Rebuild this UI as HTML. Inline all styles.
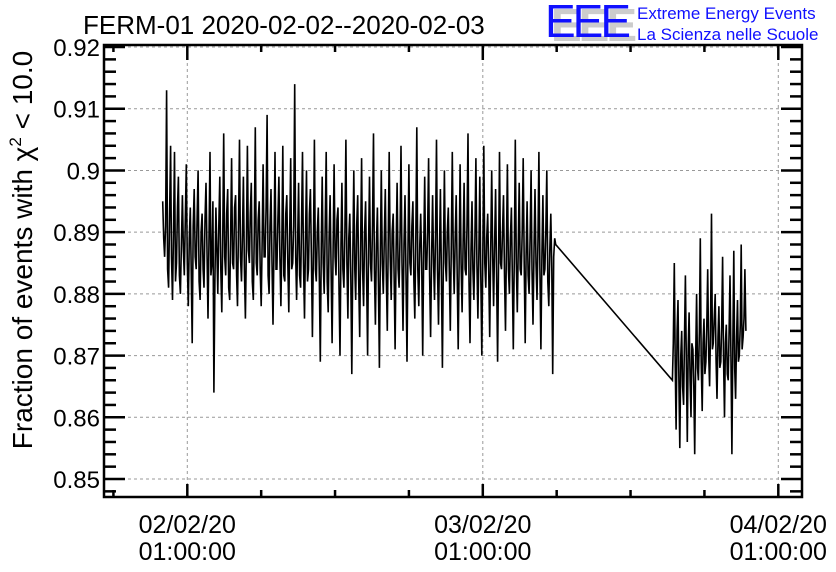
<!DOCTYPE html>
<html><head><meta charset="utf-8"><style>
body{margin:0;background:#fff;}
svg{display:block;font-family:"Liberation Sans",sans-serif;}
</style></head><body>
<svg id="chart" width="836" height="572">
<text x="83" y="34" font-size="26">FERM-01 2020-02-02--2020-02-03</text>
<g>
<text x="551" y="41" font-size="46" fill="#ccc" font-weight="bold" letter-spacing="-3">EEE</text>
<text x="545" y="37" font-size="46" fill="#1010ff" letter-spacing="-3">EEE</text>
<text x="637" y="19" font-size="17" fill="#1010ff">Extreme Energy Events</text>
<text x="637" y="40" font-size="17" fill="#1010ff">La Scienza nelle Scuole</text>
</g>
<text transform="translate(32,250) rotate(-90)" text-anchor="middle" font-size="28">Fraction of events with χ<tspan dy="-11" font-size="17">2</tspan><tspan dy="11"> &lt; 10.0</tspan></text>
<g id="grid"></g><g id="series"></g><g id="axes"></g>
</svg>
<script>
const yTicks=[0.85,0.86,0.87,0.88,0.89,0.90,0.91,0.92];
const yTickLabels=["0.85","0.86","0.87","0.88","0.89","0.9","0.91","0.92"];
const xTickHours=[0,24,48];
const xTickLabels=[["02/02/20","01:00:00"],["03/02/20","01:00:00"],["04/02/20","01:00:00"]];
const seg1Start=-2.0, seg1Step=0.08;
const seg1Values=[
0.895,0.889,0.886,0.891,0.913,0.884,0.881,0.893,0.904,0.886,0.879,0.890,0.903,0.882,0.885,0.894,0.899,0.883,0.880,0.888,
0.896,0.887,0.883,0.892,0.901,0.885,0.878,0.889,0.894,0.884,0.872,0.891,0.897,0.886,0.884,0.893,0.900,0.882,0.879,0.890,
0.893,0.884,0.881,0.892,0.898,0.887,0.876,0.889,0.903,0.883,0.885,0.895,0.864,0.882,0.894,0.887,0.880,0.891,0.899,0.884,
0.877,0.890,0.906,0.886,0.883,0.893,0.897,0.881,0.879,0.889,0.902,0.885,0.884,0.894,0.896,0.883,0.878,0.891,0.905,0.886,
0.882,0.890,0.899,0.884,0.876,0.888,0.904,0.887,0.885,0.893,0.898,0.882,0.879,0.890,0.907,0.885,0.883,0.892,0.895,0.884,
0.878,0.889,0.901,0.886,0.886,0.894,0.909,0.883,0.880,0.891,0.897,0.885,0.875,0.888,0.903,0.884,0.884,0.892,0.899,0.886,
0.878,0.889,0.904,0.883,0.882,0.893,0.896,0.885,0.877,0.890,0.902,0.884,0.885,0.891,0.914,0.886,0.879,0.888,0.898,0.883,
0.881,0.892,0.903,0.885,0.876,0.889,0.900,0.882,0.884,0.893,0.897,0.886,0.873,0.887,0.905,0.884,0.882,0.890,0.894,0.883,
0.869,0.888,0.899,0.885,0.880,0.891,0.903,0.882,0.877,0.889,0.896,0.884,0.872,0.887,0.901,0.886,0.883,0.892,0.894,0.881,
0.870,0.888,0.898,0.884,0.881,0.890,0.905,0.885,0.876,0.889,0.893,0.883,0.867,0.886,0.900,0.884,0.879,0.891,0.896,0.882,
0.873,0.889,0.902,0.884,0.878,0.890,0.895,0.883,0.870,0.887,0.899,0.885,0.882,0.891,0.906,0.884,0.875,0.888,0.894,0.882,
0.868,0.887,0.900,0.885,0.880,0.889,0.897,0.883,0.874,0.888,0.903,0.886,0.879,0.890,0.893,0.882,0.871,0.887,0.898,0.884,
0.881,0.890,0.904,0.885,0.874,0.888,0.896,0.883,0.869,0.886,0.901,0.885,0.883,0.891,0.895,0.882,0.876,0.889,0.907,0.884,
0.878,0.888,0.893,0.885,0.870,0.887,0.899,0.884,0.884,0.890,0.902,0.883,0.873,0.886,0.896,0.885,0.879,0.889,0.905,0.884,
0.875,0.887,0.897,0.883,0.868,0.886,0.900,0.885,0.882,0.890,0.894,0.884,0.874,0.888,0.903,0.886,0.880,0.889,0.896,0.883,
0.871,0.886,0.901,0.885,0.877,0.888,0.898,0.884,0.883,0.891,0.906,0.882,0.872,0.887,0.895,0.884,0.879,0.889,0.902,0.885,
0.876,0.887,0.899,0.883,0.870,0.886,0.904,0.885,0.881,0.889,0.893,0.884,0.873,0.887,0.900,0.886,0.878,0.888,0.897,0.883,
0.869,0.886,0.903,0.885,0.884,0.890,0.896,0.883,0.874,0.887,0.901,0.884,0.880,0.889,0.894,0.882,0.871,0.886,0.905,0.885,
0.877,0.888,0.898,0.884,0.883,0.890,0.902,0.885,0.872,0.886,0.895,0.883,0.880,0.889,0.900,0.884,0.875,0.887,0.897,0.885,
0.879,0.889,0.903,0.884,0.871,0.886,0.896,0.883,0.884,0.890,0.900,0.882,0.878,0.887,0.893,0.884,0.867,0.886,0.889,0.888];
const seg2Start=39.4, seg2Step=0.0755;
const seg2Values=[
0.866,0.872,0.885,0.869,0.858,0.874,0.879,0.866,0.855,0.870,0.874,0.865,0.862,0.873,0.883,0.868,0.856,0.871,0.877,0.866,
0.860,0.872,0.871,0.865,0.854,0.870,0.880,0.868,0.866,0.874,0.889,0.869,0.861,0.872,0.876,0.867,0.869,0.875,0.884,0.870,
0.865,0.874,0.893,0.871,0.872,0.876,0.880,0.869,0.863,0.873,0.878,0.868,0.869,0.875,0.886,0.870,0.860,0.872,0.875,0.867,
0.866,0.874,0.883,0.869,0.854,0.871,0.887,0.868,0.863,0.873,0.879,0.869,0.870,0.875,0.888,0.871,0.873,0.876,0.884,0.874];

const L=104,R=802,T=45,B=497;
const xS=h=>187.3+h*(295.5/24);
const yS=v=>479-(v-0.85)*6171;
const NS="http://www.w3.org/2000/svg";
function mk(tag,attrs,parent){const e=document.createElementNS(NS,tag);for(const k in attrs)e.setAttribute(k,attrs[k]);parent.appendChild(e);return e;}
const grid=document.getElementById('grid'),series=document.getElementById('series'),axes=document.getElementById('axes');
yTicks.forEach(v=>{const g=mk('line',{x1:L,x2:R,y1:yS(v),y2:yS(v),stroke:'#999','stroke-dasharray':'3,3','stroke-width':1},grid);

});
xTickHours.forEach(h=>{const g=mk('line',{x1:xS(h),x2:xS(h),y1:T,y2:B,stroke:'#999','stroke-dasharray':'3,3','stroke-width':1},grid);

});
const pts=[];
seg1Values.forEach((v,i)=>pts.push(xS(seg1Start+i*seg1Step).toFixed(1)+','+yS(v).toFixed(1)));
seg2Values.forEach((v,i)=>pts.push(xS(seg2Start+i*seg2Step).toFixed(1)+','+yS(v).toFixed(1)));
const pl=mk('polyline',{points:pts.join(' '),fill:'none',stroke:'#000','stroke-width':1.6},series);


const fr=mk('rect',{x:L,y:T,width:R-L,height:B-T,fill:'none',stroke:'#000','stroke-width':2.5},axes);


for(let k=0;k<=36;k++){const v=0.848+k*0.002;const y=yS(v);if(y<T-0.5||y>B+0.5)continue;
const major=Math.abs(Math.round(v*100)-v*100)<1e-6;const len=major?21:12;
const t1=mk('line',{x1:L,x2:L+len,y1:y,y2:y,stroke:'#000','stroke-width':2.5},axes);


const t2=mk('line',{x1:R-len,x2:R,y1:y,y2:y,stroke:'#000','stroke-width':2.5},axes);

}
yTicks.forEach((v,i)=>{const t=mk('text',{x:100,y:yS(v)+9,'text-anchor':'end','font-size':24},axes);t.textContent=yTickLabels[i];

});
for(let h=-12;h<=48;h+=6){const x=xS(h);if(x<L||x>R)continue;const major=h%24===0;const lb=major?13:7,lt=major?15:7;
const a=mk('line',{x1:x,x2:x,y1:B,y2:B-lb,stroke:'#000','stroke-width':2.5},axes);


const b=mk('line',{x1:x,x2:x,y1:T,y2:T+lt,stroke:'#000','stroke-width':2.5},axes);

}
xTickHours.forEach((h,i)=>{[0,1].forEach(j=>{const t=mk('text',{x:xS(h),y:533+j*27,'text-anchor':'middle','font-size':25},axes);t.textContent=xTickLabels[i][j];

});});
</script>
</body></html>
